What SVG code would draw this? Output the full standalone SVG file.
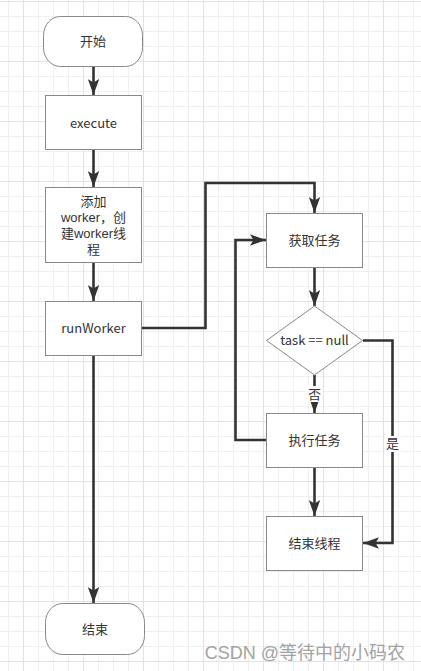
<svg xmlns="http://www.w3.org/2000/svg" width="421" height="671" viewBox="0 0 421 671">
<defs>
<pattern id="minor" width="15" height="15" patternUnits="userSpaceOnUse" x="8" y="1">
<path d="M0.5,0 V15 M0,0.5 H15" fill="none" stroke="#efefef" stroke-width="1"/>
</pattern>
<pattern id="major" width="60" height="60" patternUnits="userSpaceOnUse" x="23" y="1">
<path d="M0.5,0 V60 M0,0.5 H60" fill="none" stroke="#e2e2e2" stroke-width="1"/>
</pattern>
<marker id="arr" markerUnits="userSpaceOnUse" markerWidth="16" markerHeight="12" viewBox="0 0 14 10" refX="14" refY="5" orient="auto">
<path d="M0,0 L14,5 L0,10 L3,5 Z" fill="#333"/>
</marker>
</defs>
<style>
.box{fill:#fff;stroke:#888;stroke-width:1}
.t{font-family:"Noto Sans CJK SC","Noto Sans",sans-serif;font-size:13px;fill:#333;text-anchor:middle}
.m{font-family:"Liberation Sans","Noto Sans CJK SC",sans-serif;font-size:13px;fill:#333;text-anchor:middle}
.edge{fill:none;stroke:#333;stroke-width:2.6}
.lbl{fill:#fff}
</style>
<rect width="421" height="671" fill="#fff"/>
<rect width="421" height="671" fill="url(#minor)"/>
<rect width="421" height="671" fill="url(#major)"/>

<g id="connectors">
<path class="edge" d="M93.5,66 V95" marker-end="url(#arr)"/>
<path class="edge" d="M93.5,149 V187" marker-end="url(#arr)"/>
<path class="edge" d="M93.5,263 V301" marker-end="url(#arr)"/>
<path class="edge" d="M142,328 H205.5 V183 H314.5 V213" marker-end="url(#arr)"/>
<path class="edge" d="M314.5,267 V306" marker-end="url(#arr)"/>
<path class="edge" d="M314.5,375 V413" marker-end="url(#arr)"/>
<path class="edge" d="M266,440 H235.5 V240 H266" marker-end="url(#arr)"/>
<path class="edge" d="M363,340.5 H392.5 V543 H363" marker-end="url(#arr)"/>
<path class="edge" d="M314.5,467 V516" marker-end="url(#arr)"/>
<path class="edge" d="M93.5,355 V603" marker-end="url(#arr)"/>
<rect class="lbl" x="306" y="386" width="17" height="16"/>
<text class="t" x="314.5" y="398.5">否</text>
<rect class="lbl" x="384" y="436" width="17" height="16"/>
<text class="t" x="392.5" y="448">是</text>
</g>

<g id="start">
<rect class="box" x="43.5" y="16.5" width="99" height="50" rx="17" ry="19"/>
<text class="t" x="93" y="46">开始</text>
</g>
<g id="execute">
<rect class="box" x="45.5" y="95.5" width="96" height="54"/>
<text class="t" x="93.5" y="127.5">execute</text>
</g>
<g id="addWorker">
<rect class="box" x="45.5" y="187.5" width="96" height="75"/>
<text class="m" x="93.5" y="206"><tspan x="93.5">添加</tspan><tspan x="93.5" dy="16">worker，创</tspan><tspan x="93.5" dy="16">建worker线</tspan><tspan x="93.5" dy="16">程</tspan></text>
</g>
<g id="runWorker">
<rect class="box" x="45.5" y="301.5" width="96" height="54"/>
<text class="t" x="93.5" y="333">runWorker</text>
</g>
<g id="getTask">
<rect class="box" x="266.5" y="213.5" width="96" height="54"/>
<text class="t" x="314.5" y="245">获取任务</text>
</g>
<g id="decision">
<polygon class="box" points="314.5,306 362.5,340.5 314.5,375 266.5,340.5"/>
<text class="t" x="314.5" y="345">task == null</text>
</g>
<g id="runTask">
<rect class="box" x="266.5" y="413.5" width="96" height="54"/>
<text class="t" x="314.5" y="445">执行任务</text>
</g>
<g id="endThread">
<rect class="box" x="266.5" y="516.5" width="96" height="54"/>
<text class="t" x="314.5" y="548">结束线程</text>
</g>
<g id="end">
<rect class="box" x="45.5" y="603.5" width="99" height="51" rx="17" ry="19"/>
<text class="t" x="95" y="634">结束</text>
</g>

<text x="405" y="659" font-family="'Liberation Sans','Noto Sans CJK SC',sans-serif" font-size="18" fill="#a3a3a3" text-anchor="end">CSDN @等待中的小码农</text>
</svg>
